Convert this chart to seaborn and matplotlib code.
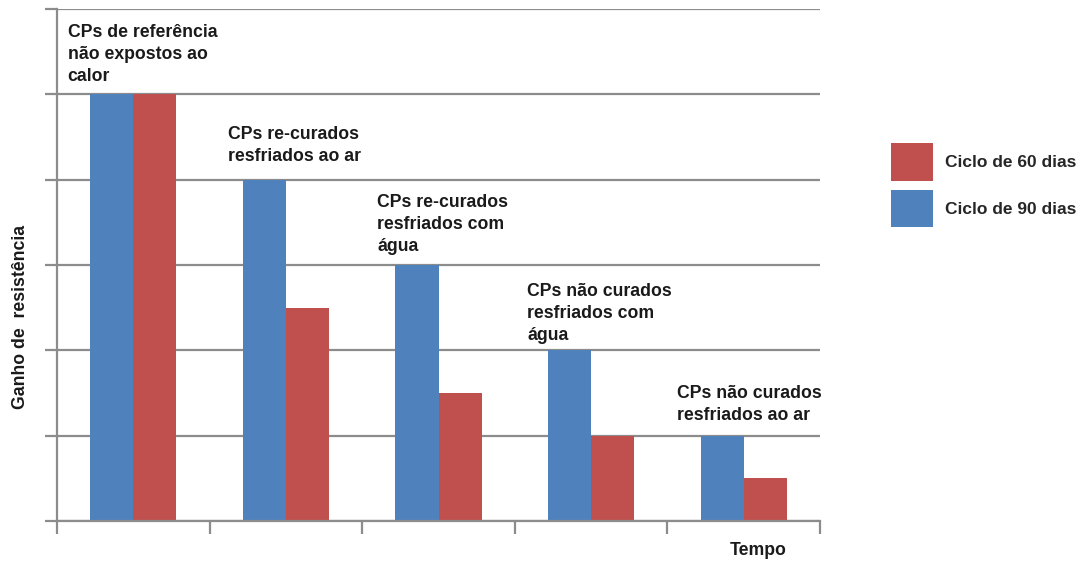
import matplotlib
matplotlib.use("Agg")
import matplotlib.pyplot as plt
from matplotlib.patches import Patch
import seaborn as sns
import pandas as pd

# Data
groups = [
    "CPs de referência\nnão expostos ao\ncalor",
    "CPs re-curados\nresfriados ao ar",
    "CPs re-curados\nresfriados com\nágua",
    "CPs não curados\nresfriados com\nágua",
    "CPs não curados\nresfriados ao ar",
]
ciclo_90 = [5, 4, 3, 2, 1]
ciclo_60 = [5, 2.5, 1.5, 1, 0.5]
series_names = ["Ciclo de 90 dias", "Ciclo de 60 dias"]

df = pd.DataFrame({
    "grupo": groups * 2,
    "ciclo": [series_names[0]] * len(groups) + [series_names[1]] * len(groups),
    "ganho": ciclo_90 + ciclo_60,
})

BLUE = "#4F81BD"
RED = "#C0504D"
GRID = "#8C8C8C"
TEXT = "#1a1a1a"

sns.set_style("white")
plt.rcParams["font.family"] = ["Liberation Sans", "DejaVu Sans"]

fig = plt.figure(figsize=(10.84, 5.61), dpi=100)
ax = fig.add_axes([0.0526, 0.0713, 0.7039, 0.9127])

sns.barplot(data=df, x="grupo", y="ganho", hue="ciclo", order=groups,
            hue_order=series_names, palette=[BLUE, RED], width=0.565,
            saturation=1, ax=ax, legend=False, zorder=3,
            edgecolor="none", linewidth=0)

ax.set_ylim(0, 6)
ax.set_xlim(-0.5, len(groups) - 0.5)
ax.set_yticks(range(0, 7))
ax.set_yticklabels([])
ax.set_xticks([i - 0.5 for i in range(len(groups) + 1)])
ax.set_xticklabels([])
ax.grid(axis="y", color=GRID, linewidth=1.6, zorder=0)
ax.set_axisbelow(True)
ax.tick_params(axis="both", direction="out", length=9, width=1.6, color=GRID,
               left=True, bottom=True)
for side in ["top", "right"]:
    ax.spines[side].set_visible(False)
for side in ["left", "bottom"]:
    ax.spines[side].set_color(GRID)
    ax.spines[side].set_linewidth(1.6)
    ax.spines[side].set_zorder(4)

# Group labels above the bars
label_x = [-0.43, 0.62, 1.60, 2.58, 3.56]
label_y = [5.82, 4.63, 3.83, 2.79, 1.59]
for txt, lx, ly in zip(groups, label_x, label_y):
    ax.text(lx, ly, txt, ha="left", va="top", fontsize=12.7,
            fontweight="bold", color=TEXT, linespacing=1.38)

ax.set_xlabel("")
ax.set_ylabel("")
fig.text(0.0185, 0.435, "Ganho de  resistência", rotation=90, ha="center",
         va="center", fontsize=12.7, fontweight="bold", color=TEXT)
fig.text(0.699, 0.011, "Tempo", ha="center", va="baseline", fontsize=12.7,
         fontweight="bold", color=TEXT)

handles = [Patch(facecolor=RED, edgecolor="none"),
           Patch(facecolor=BLUE, edgecolor="none")]
fig.legend(handles, [series_names[1], series_names[0]], loc="upper left",
           bbox_to_anchor=(0.8076, 0.7736), frameon=False,
           prop={"weight": "bold", "size": 12.5}, handlelength=2.41,
           handleheight=2.98, handletextpad=0.69, labelspacing=0.52)

fig.savefig("out.png", dpi=100)
